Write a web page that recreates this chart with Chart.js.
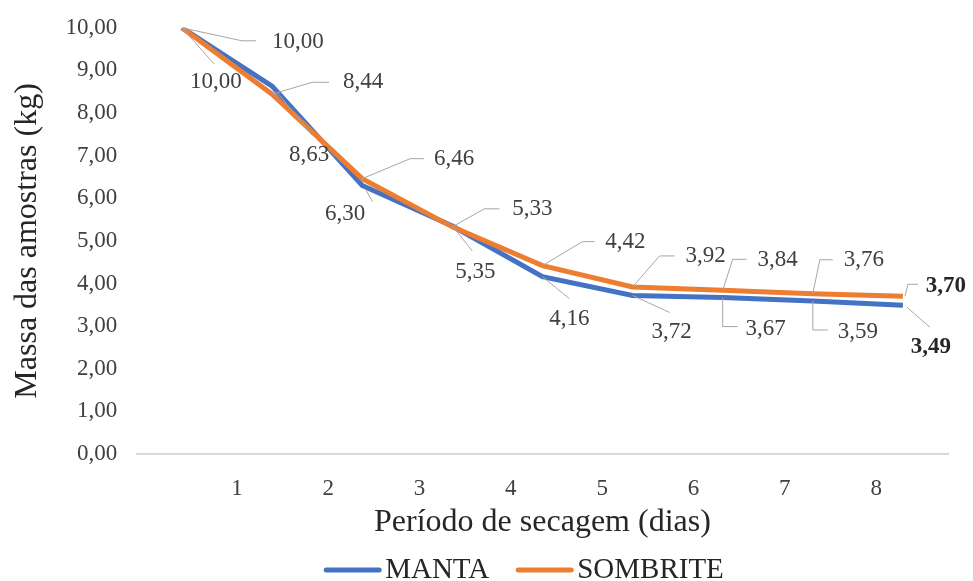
<!DOCTYPE html>
<html>
<head>
<meta charset="utf-8">
<script src="https://cdn.jsdelivr.net/npm/chart.js@4.4.1/dist/chart.umd.min.js"></script>
<style>
  body { margin: 0; background: #fff; }
  #box { width: 973px; height: 581px; }
</style>
</head>
<body>
<div id="box"><canvas id="myChart"></canvas></div>
<script>
// dados
const periodos = ['0', '1', '2', '3', '4', '5', '6', '7', '8'];
const diasLabels = ['1', '2', '3', '4', '5', '6', '7', '8'];
const manta = [10.00, 8.63, 6.30, 5.35, 4.16, 3.72, 3.67, 3.59, 3.49];
const sombrite = [10.00, 8.44, 6.46, 5.33, 4.42, 3.92, 3.84, 3.76, 3.70];
const yTicks = [0, 1, 2, 3, 4, 5, 6, 7, 8, 9, 10];

// posicao dos rotulos (px, relativo ao ponto) e linhas de chamada
const rotuloManta = [[34, 54], [37, 69], [-17, 28], [23, 46], [27, 42], [39, 36], [43, 31], [45, 31], [28, 42]];
const chamadaManta = [
    [[0, 0], [32, 36]],
    [[5, 6], [40, 49]],
    [[3, 3], [10, 16]],
    [[0, 0], [20, 25]],
    [[0, 0], [27, 22]],
    [[0, 0], [37, 17]],
    [[0, 0], [0, 29], [15, 29]],
    [[0, 0], [0, 29], [15, 29]],
    [[4, 2], [27, 22]]
];
const rotuloSombrite = [[116, 14], [91, -12], [92, -20], [80, -18], [83, -24], [73, -31], [55, -30], [51, -34], [43, -10]];
const chamadaSombrite = [
    [[0, 0], [60, 13], [74, 13]],
    [[0, 0], [40, -12], [57, -12]],
    [[0, 0], [48, -20], [62, -20]],
    [[0, 0], [32, -18], [47, -18]],
    [[0, 0], [40, -24], [52, -24]],
    [[0, 0], [27, -31], [42, -31]],
    [[0, 0], [10, -31], [24, -31]],
    [[0, 0], [7, -34], [20, -34]],
    [[2, 0], [5, -12], [15, -12]]
];

const fonte = "'Liberation Serif', 'Times New Roman', serif";
const corTexto = '#404040';
Chart.defaults.font.family = fonte;
Chart.defaults.color = corTexto;

const fmt = v => v.toFixed(2).replace('.', ',');

// rotulos de dados com linha de chamada
const rotulosPlugin = {
    id: 'rotulos',
    afterDatasetsDraw(chart) {
        const ctx = chart.ctx;
        const conf = [
            { pos: rotuloManta, linha: chamadaManta },
            { pos: rotuloSombrite, linha: chamadaSombrite }
        ];
        ctx.save();
        chart.data.datasets.forEach((ds, di) => {
            const meta = chart.getDatasetMeta(di);
            const c = conf[di];
            meta.data.forEach((pt, i) => {
                const px = pt.x, py = pt.y;
                ctx.strokeStyle = '#a6a6a6';
                ctx.lineWidth = 1;
                ctx.beginPath();
                c.linha[i].forEach((p, k) => {
                    if (k === 0) ctx.moveTo(px + p[0], py + p[1]);
                    else ctx.lineTo(px + p[0], py + p[1]);
                });
                ctx.stroke();
                const ultimo = i === meta.data.length - 1;
                ctx.font = (ultimo ? 'bold ' : '') + '23px ' + fonte;
                ctx.fillStyle = ultimo ? '#262626' : corTexto;
                ctx.textAlign = 'center';
                ctx.textBaseline = 'middle';
                ctx.fillText(fmt(ds.data[i]), px + c.pos[i][0], py + c.pos[i][1]);
            });
        });
        ctx.restore();
    }
};

// legenda desenhada embaixo (linha + nome)
const legendaPlugin = {
    id: 'legenda',
    afterDraw(chart) {
        const ctx = chart.ctx;
        const centro = 524, base = 578, linhaY = 570;
        const traco = 57, gapTexto = 4, gapItem = 27;
        ctx.save();
        ctx.font = '29px ' + fonte;
        const itens = chart.data.datasets.map(ds => ({
            nome: ds.label, cor: ds.borderColor, w: ctx.measureText(ds.label).width
        }));
        const total = itens.reduce((s, it) => s + traco + gapTexto + it.w, 0) + gapItem * (itens.length - 1);
        let x = centro - total / 2;
        itens.forEach(it => {
            ctx.strokeStyle = it.cor;
            ctx.lineWidth = 5;
            ctx.lineCap = 'round';
            ctx.beginPath();
            ctx.moveTo(x + 2, linhaY);
            ctx.lineTo(x + traco - 2, linhaY);
            ctx.stroke();
            ctx.fillStyle = '#262626';
            ctx.textAlign = 'left';
            ctx.textBaseline = 'alphabetic';
            ctx.fillText(it.nome, x + traco + gapTexto, base);
            x += traco + gapTexto + it.w + gapItem;
        });
        ctx.restore();
    }
};

const ctx1 = document.getElementById('myChart').getContext('2d');

new Chart(ctx1, {
    type: 'line',
    data: {
        labels: periodos,
        datasets: [
            {
                label: 'MANTA',
                data: manta,
                borderColor: '#4472C4',
                backgroundColor: '#4472C4',
                borderWidth: 5,
                pointRadius: 0,
                order: 1
            },
            {
                label: 'SOMBRITE',
                data: sombrite,
                borderColor: '#ED7D31',
                backgroundColor: '#ED7D31',
                borderWidth: 5,
                pointRadius: 0,
                order: 0
            }
        ]
    },
    options: {
        responsive: true,
        maintainAspectRatio: false,
        animation: false,
        layout: { padding: { top: 12, right: 25, bottom: 39, left: 4 } },
        plugins: {
            tooltip: { enabled: false },
            legend: { display: false }
        },
        scales: {
            x: {
                type: 'category',
                display: false,
                offset: true
            },
            x2: {
                type: 'linear',
                position: 'bottom',
                min: -0.095,
                max: 8.787,
                afterBuildTicks: axis => {
                    axis.ticks = diasLabels.map(v => ({ value: Number(v) }));
                },
                grid: { display: false, drawTicks: false },
                border: { display: true, color: '#d9d9d9', width: 2 },
                ticks: {
                    padding: 21,
                    font: { size: 23 },
                    color: corTexto,
                    callback: v => diasLabels[v - 1]
                },
                title: {
                    display: true,
                    text: 'Período de secagem (dias)',
                    font: { size: 32 },
                    color: '#262626',
                    padding: { top: -20, bottom: 0 }
                }
            },
            y: {
                min: yTicks[0],
                max: yTicks[yTicks.length - 1],
                afterBuildTicks: axis => {
                    axis.ticks = yTicks.map(v => ({ value: v }));
                },
                grid: { display: false, drawTicks: false },
                border: { display: false },
                ticks: {
                    padding: 14,
                    font: { size: 23 },
                    color: corTexto,
                    callback: v => fmt(v) + ' '
                },
                title: {
                    display: true,
                    text: 'Massa das amostras (kg)',
                    font: { size: 32 },
                    color: '#262626',
                    padding: { top: 4, bottom: 5 }
                }
            }
        }
    },
    plugins: [rotulosPlugin, legendaPlugin]
});
</script>
</body>
</html>
